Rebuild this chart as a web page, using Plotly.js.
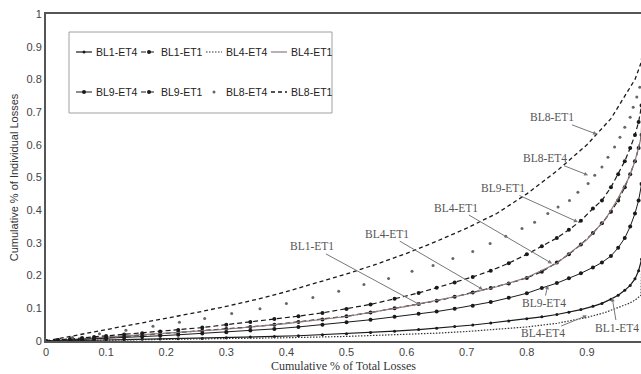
<!DOCTYPE html>
<html>
<head>
<meta charset="utf-8">
<script src="https://cdn.plot.ly/plotly-3.0.1.min.js"></script>
<style>html,body{margin:0;padding:0;background:#fff;}#chart{width:641px;height:374px;}</style>
</head>
<body>
<div id="chart"></div>
<script>
// Shared x positions of the marked series (cumulative % of total losses)
const xMarked = [0, 0.02, 0.04, 0.06, 0.08, 0.1, 0.13, 0.16, 0.19, 0.22, 0.26, 0.3, 0.34, 0.38, 0.42, 0.46, 0.5, 0.54, 0.58, 0.62, 0.65, 0.68, 0.71, 0.74, 0.77, 0.8, 0.825, 0.85, 0.87, 0.89, 0.91, 0.925, 0.94, 0.952, 0.963, 0.972, 0.98, 0.986, 0.991, 0.995, 1];

const yBL9ET1 = [0, 0.003, 0.006, 0.009, 0.012, 0.015, 0.02, 0.024, 0.029, 0.034, 0.041, 0.05, 0.058, 0.067, 0.076, 0.086, 0.098, 0.112, 0.129, 0.147, 0.163, 0.179, 0.196, 0.215, 0.238, 0.265, 0.29, 0.315, 0.34, 0.368, 0.405, 0.43, 0.47, 0.51, 0.55, 0.59, 0.63, 0.67, 0.72, 0.78, 1];
const yBL1ET1 = [0, 0.002, 0.004, 0.006, 0.009, 0.011, 0.014, 0.018, 0.022, 0.026, 0.031, 0.037, 0.043, 0.05, 0.058, 0.066, 0.076, 0.087, 0.1, 0.113, 0.123, 0.135, 0.148, 0.162, 0.176, 0.193, 0.212, 0.24, 0.265, 0.295, 0.33, 0.36, 0.395, 0.43, 0.47, 0.51, 0.55, 0.59, 0.63, 0.7, 1];
const yBL9ET4 = [0, 0.0015, 0.003, 0.005, 0.006, 0.008, 0.01, 0.013, 0.016, 0.019, 0.023, 0.027, 0.032, 0.037, 0.043, 0.05, 0.057, 0.065, 0.074, 0.083, 0.09, 0.099, 0.108, 0.119, 0.132, 0.146, 0.162, 0.177, 0.192, 0.207, 0.225, 0.24, 0.26, 0.285, 0.315, 0.35, 0.39, 0.43, 0.48, 0.55, 1];
const yBL1ET4 = [0, 0.001, 0.001, 0.002, 0.002, 0.003, 0.004, 0.005, 0.006, 0.007, 0.008, 0.01, 0.012, 0.014, 0.016, 0.019, 0.022, 0.026, 0.03, 0.035, 0.039, 0.044, 0.049, 0.055, 0.061, 0.068, 0.074, 0.081, 0.088, 0.096, 0.106, 0.115, 0.128, 0.14, 0.155, 0.17, 0.19, 0.215, 0.25, 0.3, 1];

const xBL4ET1 = [0, 0.1, 0.2, 0.3, 0.4, 0.5, 0.6, 0.7, 0.75, 0.8, 0.85, 0.9, 0.93, 0.95, 0.97, 0.98, 0.99, 1];
const yBL4ET1 = [0, 0.011, 0.024, 0.036, 0.053, 0.075, 0.106, 0.143, 0.166, 0.194, 0.238, 0.31, 0.37, 0.43, 0.5, 0.55, 0.62, 1];

const xBL4ET4 = [0, 0.1, 0.2, 0.3, 0.4, 0.5, 0.6, 0.65, 0.7, 0.75, 0.8, 0.85, 0.9, 0.93, 0.95, 0.97, 0.98, 0.99, 1];
const yBL4ET4 = [0, 0.002, 0.004, 0.007, 0.01, 0.014, 0.02, 0.024, 0.029, 0.036, 0.043, 0.054, 0.072, 0.087, 0.1, 0.115, 0.125, 0.14, 1];

const xBL8ET1 = [0, 0.05, 0.1, 0.15, 0.2, 0.25, 0.3, 0.35, 0.4, 0.45, 0.5, 0.55, 0.6, 0.65, 0.7, 0.75, 0.8, 0.85, 0.9, 0.92, 0.94, 0.96, 0.98, 0.99, 1];
const yBL8ET1 = [0, 0.017, 0.035, 0.052, 0.069, 0.087, 0.106, 0.127, 0.151, 0.178, 0.205, 0.235, 0.268, 0.305, 0.345, 0.39, 0.45, 0.52, 0.6, 0.64, 0.68, 0.74, 0.8, 0.85, 1];

const xBL8ET4 = [0, 0.044, 0.089, 0.133, 0.178, 0.222, 0.264, 0.309, 0.356, 0.40, 0.444, 0.487, 0.529, 0.57, 0.609, 0.644, 0.677, 0.71, 0.739, 0.765, 0.792, 0.813, 0.835, 0.852, 0.871, 0.885, 0.902, 0.913, 0.925, 0.935, 0.946, 0.955, 0.963, 0.972, 0.977, 0.983, 0.988];
const yBL8ET4 = [0, 0.011, 0.022, 0.033, 0.045, 0.057, 0.069, 0.084, 0.099, 0.115, 0.133, 0.152, 0.173, 0.191, 0.213, 0.231, 0.252, 0.274, 0.298, 0.32, 0.344, 0.363, 0.39, 0.41, 0.43, 0.455, 0.482, 0.507, 0.532, 0.562, 0.593, 0.623, 0.654, 0.684, 0.715, 0.746, 0.776];

const seriesNames = ['BL1-ET4', 'BL1-ET1', 'BL4-ET4', 'BL4-ET1', 'BL9-ET4', 'BL9-ET1', 'BL8-ET4', 'BL8-ET1'];

const xTicks = [0, 0.1, 0.2, 0.3, 0.4, 0.5, 0.6, 0.7, 0.8, 0.9, 1];
const xTickText = ['0', '0.1', '0.2', '0.3', '0.4', '0.5', '0.6', '0.7', '0.8', '0.9', '1'];
const yTicks = [0, 0.1, 0.2, 0.3, 0.4, 0.5, 0.6, 0.7, 0.8, 0.9, 1];
const yTickText = ['0', '0.1', '0.2', '0.3', '0.4', '0.5', '0.6', '0.7', '0.8', '0.9', '1'];

// Callout labels: text, arrow tip (data), text offset (px)
const labelText = ['BL8-ET1', 'BL8-ET4', 'BL9-ET1', 'BL4-ET1', 'BL4-ET1', 'BL1-ET1', 'BL9-ET4', 'BL4-ET4', 'BL1-ET4'];
const labelX = [0.917, 0.902, 0.885, 0.842, 0.727, 0.624, 0.835, 0.9, 0.942];
const labelY = [0.632, 0.507, 0.364, 0.237, 0.157, 0.109, 0.171, 0.078, 0.133];
const labelAx = [-45, -43, -75, -96, -96, -109, -4, -44, 5];
const labelAy = [-17, -17, -34, -56, -56, -59, 18, 18, 30];

const black = '#1a1a1a';
const styles = [
  {mode: 'lines+markers', line: {color: black, width: 1.2}, marker: {color: black, size: 3}},
  {mode: 'lines+markers', line: {color: black, width: 1.2, dash: '5px,3px'}, marker: {color: black, size: 4}},
  {mode: 'lines', line: {color: '#333', width: 1.2, dash: '1.5px,1.5px'}},
  {mode: 'lines', line: {color: '#8f7a7a', width: 1.2}},
  {mode: 'lines+markers', line: {color: black, width: 1}, marker: {color: black, size: 4}},
  {mode: 'lines+markers', line: {color: black, width: 1.2, dash: '5px,3px'}, marker: {color: black, size: 4}},
  {mode: 'markers', marker: {color: '#666', size: 3}},
  {mode: 'lines', line: {color: black, width: 1.3, dash: '4px,3px'}}
];
const xs = [xMarked, xMarked, xBL4ET4, xBL4ET1, xMarked, xMarked, xBL8ET4, xBL8ET1];
const ys = [yBL1ET4, yBL1ET1, yBL4ET4, yBL4ET1, yBL9ET4, yBL9ET1, yBL8ET4, yBL8ET1];

const traces = seriesNames.map((n, i) => Object.assign({name: n, x: xs[i], y: ys[i], type: 'scatter', showlegend: false}, styles[i]));

// Layout geometry (pixels) for converting the legend panel into paper coords
const W = 641, H = 374, ML = 46, MR = 0, MT = 14, MB = 33;
const pw = W - ML - MR, ph = H - MT - MB;
const px2x = p => (p - ML) / pw;
const py2y = p => (H - MB - p) / ph;

const shapes = [{type: 'rect', xref: 'paper', yref: 'paper',
  x0: px2x(69), x1: px2x(332), y0: py2y(113), y1: py2y(32),
  line: {color: '#a0a0a0', width: 1}, fillcolor: 'rgba(0,0,0,0)'}];
const annotations = labelText.map((t, i) => ({
  text: t, x: labelX[i], y: labelY[i], xref: 'x', yref: 'y',
  ax: labelAx[i], ay: labelAy[i], showarrow: true,
  arrowhead: 2, arrowsize: 0.8, arrowwidth: 1, arrowcolor: '#777',
  font: {family: 'Liberation Serif, serif', size: 11.5, color: '#555'}
}));

// Legend panel: 2 rows x 4 columns, sample + label per series
seriesNames.forEach((n, i) => {
  const row = Math.floor(i / 4), col = i % 4;
  const cy = 52 + row * 40;
  const sx0 = 76 + col * 65, sx1 = sx0 + 16;
  const st = styles[i];
  if (st.mode.indexOf('lines') >= 0) {
    shapes.push({type: 'line', xref: 'paper', yref: 'paper',
      x0: px2x(sx0), x1: px2x(sx1), y0: py2y(cy), y1: py2y(cy),
      line: {color: st.line.color, width: st.line.width, dash: st.line.dash || 'solid'}});
  }
  if (st.mode.indexOf('markers') >= 0) {
    const r = st.marker.size / 2;
    const cx = (sx0 + sx1) / 2;
    shapes.push({type: 'circle', xref: 'paper', yref: 'paper',
      x0: px2x(cx - r), x1: px2x(cx + r), y0: py2y(cy + r), y1: py2y(cy - r),
      line: {width: 0}, fillcolor: st.marker.color});
  }
  annotations.push({text: n, xref: 'paper', yref: 'paper', x: px2x(sx1 + 2), y: py2y(cy),
    xanchor: 'left', yanchor: 'middle', showarrow: false,
    font: {family: 'Liberation Sans, Arial, sans-serif', size: 10.5, color: '#222'}});
});

const layout = {
  width: W, height: H,
  margin: {l: ML, r: MR, t: MT, b: MB, pad: 0},
  paper_bgcolor: '#fff', plot_bgcolor: '#fff',
  showlegend: false,
  xaxis: {
    range: [0, 0.99], tickvals: xTicks, ticktext: xTickText,
    showgrid: false, zeroline: false, showline: true, linecolor: '#555', linewidth: 2,
    mirror: true, ticks: '', ticklen: 0,
    tickfont: {family: 'Liberation Sans, Arial, sans-serif', size: 11, color: '#444'},
    title: {text: 'Cumulative % of Total Losses', standoff: 4,
      font: {family: 'Liberation Serif, serif', size: 12, color: '#333'}}
  },
  yaxis: {
    range: [0, 1], tickvals: yTicks, ticktext: yTickText,
    showgrid: false, zeroline: false, showline: true, linecolor: '#555', linewidth: 2,
    ticks: '', ticklen: 0,
    tickfont: {family: 'Liberation Sans, Arial, sans-serif', size: 11, color: '#444'},
    title: {text: 'Cumulative % of Individual Losses', standoff: 6,
      font: {family: 'Liberation Sans, Arial, sans-serif', size: 11, color: '#333'}}
  },
  shapes: shapes,
  annotations: annotations
};

Plotly.newPlot('chart', traces, layout, {staticPlot: true, displayModeBar: false});
</script>
</body>
</html>
